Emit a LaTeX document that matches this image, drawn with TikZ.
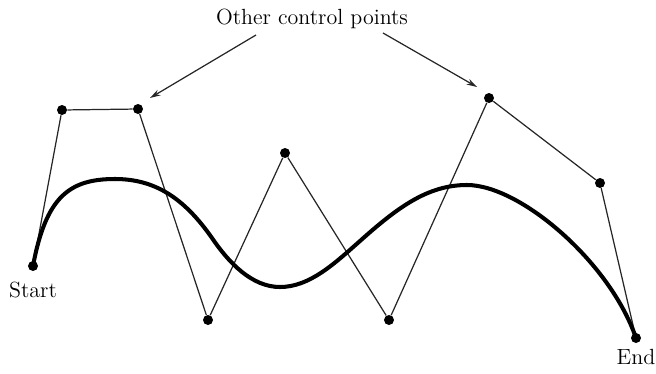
\documentclass[tikz,border=0pt]{standalone}
\usetikzlibrary{arrows.meta}

\begin{document}
\begin{tikzpicture}[x=0.02cm,y=-0.02cm,
  ctrlpt/.style={circle,fill=black,inner sep=0pt,minimum size=0.2cm},
  polygon/.style={draw=black!85,line width=0.7pt},
  bspline/.style={draw=black,line width=2.3pt,line cap=round},
  callout/.style={draw=black!85,line width=0.7pt,-{Stealth[length=6pt,width=3.5pt]}},
  lbl/.style={font=\fontsize{12.5}{15}\selectfont,inner sep=0pt}]
  \useasboundingbox (0,0) rectangle (656,373);
  % control points
  \node[ctrlpt] (start) at (33,266) {};
  \node[ctrlpt] (p1) at (62,110) {};
  \node[ctrlpt] (p2) at (138,109) {};
  \node[ctrlpt] (p3) at (208,320) {};
  \node[ctrlpt] (p4) at (285,153) {};
  \node[ctrlpt] (p5) at (389,320) {};
  \node[ctrlpt] (p6) at (489,98) {};
  \node[ctrlpt] (p7) at (600,183) {};
  \node[ctrlpt] (end) at (636,338) {};
  % control polygon
  \draw[polygon] (start) -- (p1) -- (p2) -- (p3) -- (p4) -- (p5) -- (p6) -- (p7) -- (end);
  % the curve
  \draw[bspline] (start.center) .. controls (46,196) and (70,179) .. (115,179)
    .. controls (155,179) and (184,198) .. (212,238)
    .. controls (229,263) and (252,287) .. (280,287)
    .. controls (310,287) and (335,263) .. (360,241)
    .. controls (398,207) and (428,185) .. (467,185)
    .. controls (520,185) and (610,262) .. (end.center);
  % labels
  \node[lbl] (title) at (312,19) {Other control points};
  \node[lbl] (startlbl) at (33,290) {Start};
  \node[lbl] (endlbl) at (636,357) {End};
  \coordinate (lefttail) at (256,35);
  \coordinate (lefthead) at (150,98);
  \coordinate (righttail) at (383,33);
  \coordinate (righthead) at (477,87);
  \draw[callout] (lefttail) -- (lefthead);
  \draw[callout] (righttail) -- (righthead);
\end{tikzpicture}
\end{document}
